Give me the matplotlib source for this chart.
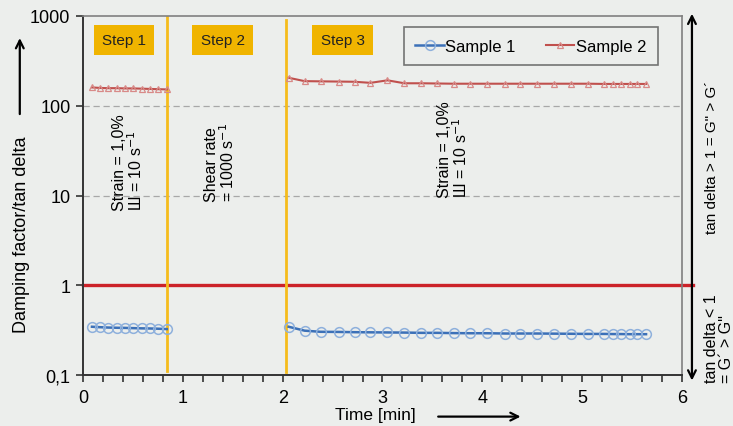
import numpy as np
import matplotlib
matplotlib.use('Agg')
import matplotlib.pyplot as plt
from matplotlib.ticker import FixedLocator, MultipleLocator

plt.rcParams['font.family'] = ['Liberation Sans', 'DejaVu Sans']

# --- data ---
t_step1 = [0.09, 0.17, 0.25, 0.34, 0.42, 0.50, 0.59, 0.67, 0.75, 0.84]
t_step3 = [2.06, 2.22, 2.38, 2.56, 2.72, 2.88, 3.05, 3.22, 3.39, 3.55, 3.72, 3.88, 4.05,
           4.23, 4.38, 4.55, 4.72, 4.89, 5.06, 5.22, 5.31, 5.39, 5.48, 5.55, 5.64]
s1_step1 = [0.345, 0.341, 0.338, 0.336, 0.335, 0.333, 0.331, 0.330, 0.328, 0.325]
s1_step3 = [0.345, 0.312, 0.303, 0.302, 0.300, 0.299, 0.298, 0.297, 0.295, 0.295, 0.293,
            0.292, 0.292, 0.290, 0.290, 0.290, 0.289, 0.288, 0.287, 0.287, 0.286, 0.286,
            0.285, 0.285, 0.285]
s2_step1 = [160, 158, 157, 157, 156, 156, 155, 154, 153, 152]
s2_step3 = [205, 188, 187, 186, 185, 180, 192, 178, 178, 177, 176, 176, 176, 176, 176,
            176, 176, 176, 176, 175, 175, 175, 175, 175, 175]
step_bounds = [0.84, 2.03]
step_labels = ['Step 1', 'Step 2', 'Step 3']
step_label_x = [0.41, 1.40, 2.60]
y_ticks = [0.1, 1, 10, 100, 1000]
y_ticklabels = ['0,1', '1', '10', '100', '1000']

BG = '#eceeec'
ORANGE = '#f0b400'
VLINE = '#f5bc1c'

fig = plt.figure(figsize=(7.33, 4.27), dpi=100)
fig.patch.set_facecolor(BG)
ax = fig.add_axes([0.1132, 0.1194, 0.8172, 0.8408])
ax.set_facecolor(BG)

ax.set_yscale('log')
ax.set_ylim(0.1, 1000)
ax.set_xlim(0, 6)

# grid lines at 10 and 100
for gy in [10, 100]:
    ax.axhline(gy, color='#a8a8a8', lw=0.9, ls=(0, (5, 3)), zorder=1)

# tan delta = 1 line (runs into the right arrow)
ax.plot([0, 6.11], [1, 1], color='#cc2229', lw=2.4, clip_on=False, zorder=2)

# step boundaries
ax.axvline(step_bounds[0], ymin=0.011, ymax=0.997, color=VLINE, lw=2, zorder=2)
ax.axvline(step_bounds[1], ymin=0.008, ymax=0.989, color=VLINE, lw=2, zorder=2)

# series (gap between steps)
t_all = t_step1 + [np.nan] + t_step3
s1_all = s1_step1 + [np.nan] + s1_step3
s2_all = s2_step1 + [np.nan] + s2_step3
ax.plot(t_all, s1_all, color='#3b70b8', lw=1.8, marker='o', ms=7,
        mfc='none', mec='#8eb0dc', mew=1.1, label='Sample 1', zorder=4)
ax.plot(t_all, s2_all, color='#c0504d', lw=1.5, marker='^', ms=4.5,
        mfc='none', mec='#d88a88', mew=0.9, label='Sample 2', zorder=4)

# ticks
ax.yaxis.set_major_locator(FixedLocator(y_ticks))
ax.set_yticklabels(y_ticklabels)
ax.yaxis.set_minor_locator(FixedLocator([]))
ax.xaxis.set_major_locator(MultipleLocator(1))
ax.xaxis.set_minor_locator(MultipleLocator(0.2))
ax.tick_params(axis='y', which='major', labelsize=13, direction='out',
               length=5, width=1.2, color='#333333', pad=4)
ax.tick_params(axis='x', which='major', labelsize=13, direction='out',
               length=5, width=1.2, color='#333333', pad=5)
ax.tick_params(axis='x', which='minor', direction='out', length=5, width=1.2,
               color='#333333')

for side in ['left', 'bottom']:
    ax.spines[side].set_color('#333333')
    ax.spines[side].set_linewidth(1.4)
for side in ['top', 'right']:
    ax.spines[side].set_color('#808080')
    ax.spines[side].set_linewidth(1.2)

# step labels
for x, lab in zip(step_label_x, step_labels):
    ax.text(x, 0.933, lab, transform=ax.get_xaxis_transform(), ha='center',
            va='center', fontsize=11, color='#222222',
            bbox=dict(boxstyle='square,pad=0.55', fc=ORANGE, ec='none'))

# rotated step annotations
note_kw = dict(rotation=90, transform=ax.get_xaxis_transform(), ha='center',
               va='bottom', multialignment='left', fontsize=11.5, linespacing=0.95)
ax.text(0.46, 0.46, 'Strain = 1,0%\nШ = 10 s$^{-1}$', **note_kw)
ax.text(1.38, 0.485, 'Shear rate\n= 1000 s$^{-1}$', **note_kw)
ax.text(3.71, 0.495, 'Strain = 1,0%\nШ = 10 s$^{-1}$', **note_kw)

leg = ax.legend(loc='upper right', bbox_to_anchor=(0.96, 0.969), ncol=2,
                fontsize=12, frameon=True, fancybox=False, handlelength=1.7,
                handletextpad=0.1, columnspacing=1.8, borderpad=0.7,
                borderaxespad=0)
leg.get_frame().set_facecolor(BG)
leg.get_frame().set_edgecolor('#555555')
leg.get_frame().set_linewidth(1.2)

# axis labels with arrows
fig.text(0.030, 0.45, 'Damping factor/tan delta', rotation=90, ha='center',
         va='center', fontsize=13)
ax.annotate('', xy=(0.027, 0.915), xytext=(0.027, 0.724), xycoords='figure fraction',
            textcoords='figure fraction',
            arrowprops=dict(arrowstyle='->', color='black', lw=1.6,
                            mutation_scale=14))

fig.text(0.512, 0.026, 'Time [min]', ha='center', va='center', fontsize=12.5)
ax.annotate('', xy=(0.714, 0.022), xytext=(0.594, 0.022), xycoords='figure fraction',
            textcoords='figure fraction',
            arrowprops=dict(arrowstyle='->', color='black', lw=1.6,
                            mutation_scale=14))

# right side: double arrow and regions
ax.annotate('', xy=(0.944, 0.972), xytext=(0.944, 0.100), xycoords='figure fraction',
            textcoords='figure fraction',
            arrowprops=dict(arrowstyle='<->', color='black', lw=1.6,
                            mutation_scale=14))
fig.text(0.971, 0.632, 'tan delta > 1 = G" > G´', rotation=90, ha='center',
         va='center', fontsize=11)
fig.text(0.981, 0.103, 'tan delta < 1\n= G´ > G"', rotation=90, ha='center',
         va='bottom', multialignment='left', fontsize=11.5, linespacing=1.0)

fig.savefig('out.png', dpi=100, facecolor=BG)
